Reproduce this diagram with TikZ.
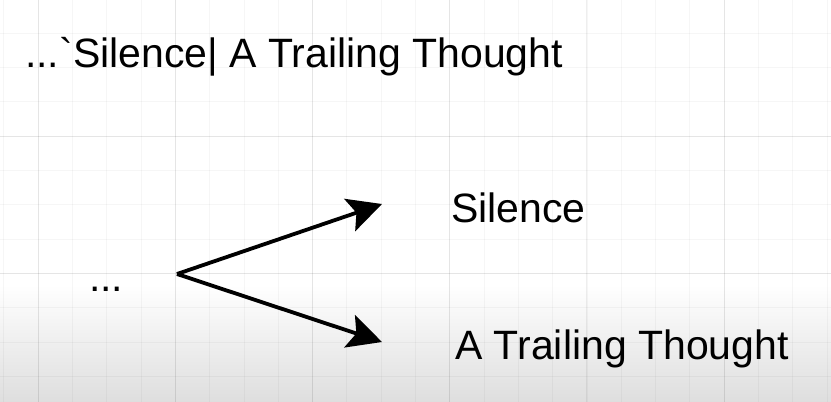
\documentclass[tikz,border=0pt]{standalone}
\usepackage{fontspec}
\setmainfont{Liberation Sans}
\usepackage{xcolor}
\definecolor{shadowgray}{RGB}{222,222,222}
\usetikzlibrary{positioning,arrows.meta}

\begin{document}
\begin{tikzpicture}[
    x=1pt, y=-1pt,
    big/.style={anchor=base west, inner sep=0pt, text=black,
                font=\fontsize{41}{49}\selectfont},
    arr/.style={-{Stealth[length=34pt, width=34pt, inset=7pt]},
                line width=3.8pt, black},
    minorgrid/.style={draw=black, opacity=0.035, line width=0.6pt},
    majorgrid/.style={draw=black, opacity=0.065, line width=0.7pt},
]

% --- BACKGROUND ---
\useasboundingbox (0,0) rectangle (831,402);
\fill[white] (0,0) rectangle (831,402);
\shade[top color=white, bottom color=shadowgray] (0,285) rectangle (831,402);

\foreach \i in {0,...,24}
    \draw[minorgrid] (3.7+\i*34.3,0) -- (3.7+\i*34.3,402);
\foreach \j in {0,...,12}
    \draw[minorgrid] (0,-1.2+\j*34.3) -- (831,-1.2+\j*34.3);
\foreach \i in {0,...,5}
    \draw[majorgrid] (38+\i*137.2,0) -- (38+\i*137.2,402);
\foreach \j in {1,2}
    \draw[majorgrid] (0,-1.2+\j*137.2) -- (831,-1.2+\j*137.2);

% --- NODES ---
\node[big] (title) at (25, 67) {...\textasciigrave Silence| A Trailing Thought};

\node[big] (dots) at (89, 291) {...};

\node[big] (silence) at (451, 222) {Silence};

\node[big] (thought) at (455, 359) {A Trailing Thought};

\coordinate (fork) at (177, 274);
\coordinate (tipS) at (382, 204);
\coordinate (tipT) at (382, 342);

% --- ARROWS ---
\draw[arr] (fork) -- (tipS);
\draw[arr] (fork) -- (tipT);

\end{tikzpicture}
\end{document}
